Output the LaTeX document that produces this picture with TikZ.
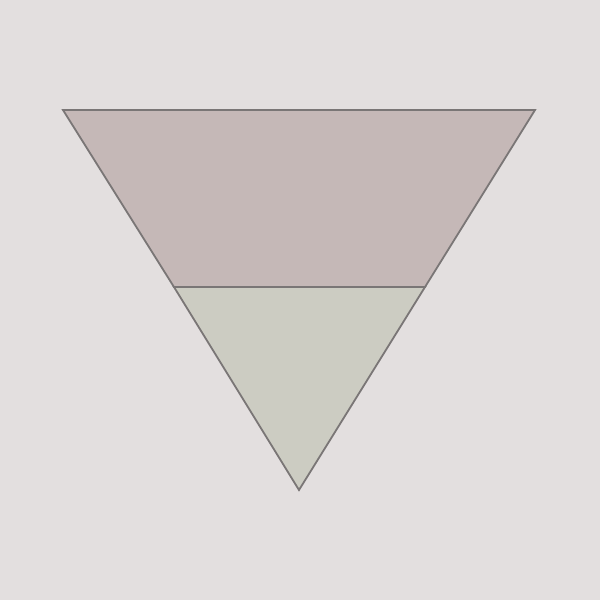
\documentclass[tikz,border=0pt]{standalone}
\definecolor{bgc}{HTML}{E3DFDF}
\definecolor{topc}{HTML}{C5B8B7}
\definecolor{botc}{HTML}{CCCCC2}
\definecolor{edgec}{HTML}{7A7676}
\begin{document}
\begin{tikzpicture}[x=1pt,y=-1pt,
  part/.style={draw=edgec,line width=1.8pt,line join=miter}]
\fill[bgc] (0,0) rectangle (600,600);
\useasboundingbox (0,0) rectangle (600,600);
\coordinate (tl) at (63,110);
\coordinate (tr) at (535,110);
\coordinate (ml) at (174,287);
\coordinate (mr) at (425,287);
\coordinate (ap) at (299,490);
\filldraw[part,fill=topc] (tl) -- (tr) -- (mr) -- (ml) -- cycle;
\filldraw[part,fill=botc] (ml) -- (mr) -- (ap) -- cycle;
\end{tikzpicture}
\end{document}
